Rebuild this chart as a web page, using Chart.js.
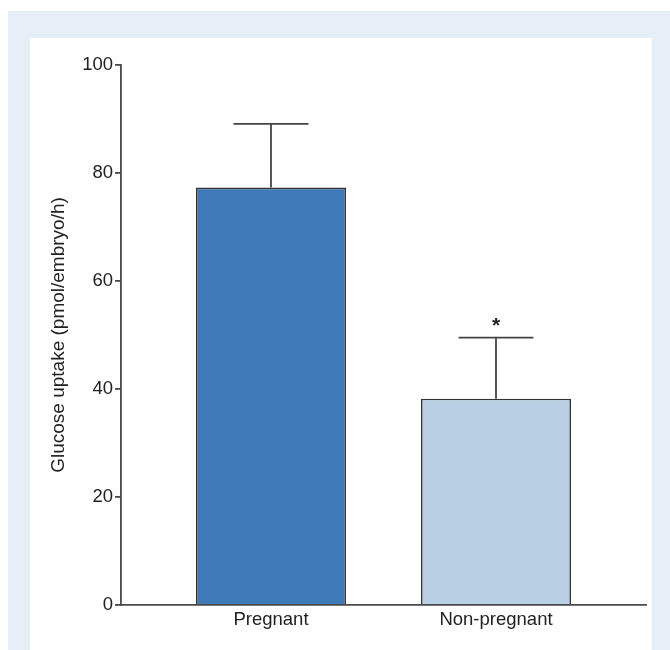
<!DOCTYPE html>
<html>
<head>
<meta charset="utf-8">
<script src="https://cdn.jsdelivr.net/npm/chart.js@4/dist/chart.umd.min.js"></script>
<style>
  html, body { margin: 0; padding: 0; background: #ffffff; }
  #wrap { width: 670px; height: 650px; }
</style>
</head>
<body>
<div id="wrap"><canvas id="c" width="670" height="650"></canvas></div>
<script>
// ---- data ----
const categories = ['Pregnant', 'Non-pregnant'];
const meanValues = [77.3, 38.2];
const errorValues = [11.8, 11.3];
const significance = ['', '*'];
const yTicks = [0, 20, 40, 60, 80, 100];
const barColors = ['#3f7ab8', '#b9d0e4'];

const FONT = "'Liberation Sans', Arial, Helvetica, sans-serif";
const TEXT = '#222222';
const AXIS = '#4a4a4a';

const backgroundPlugin = {
  id: 'panels',
  beforeDraw(chart) {
    const ctx = chart.ctx;
    ctx.save();
    ctx.fillStyle = '#e6eef8';
    ctx.fillRect(8, 11, 662, 639);
    ctx.fillStyle = '#ffffff';
    ctx.fillRect(30, 38, 622, 612);
    ctx.restore();
  }
};

const errorBarPlugin = {
  id: 'errorBars',
  afterDatasetsDraw(chart) {
    const ctx = chart.ctx;
    const y = chart.scales.y;
    const meta = chart.getDatasetMeta(0);
    ctx.save();
    meta.data.forEach((bar, i) => {
      const top = y.getPixelForValue(meanValues[i] + errorValues[i]);
      const half = bar.width / 4;
      ctx.strokeStyle = '#444444';
      ctx.lineWidth = 1.8;
      ctx.beginPath();
      ctx.moveTo(bar.x, bar.y);
      ctx.lineTo(bar.x, top);
      ctx.moveTo(bar.x - half, top);
      ctx.lineTo(bar.x + half, top);
      ctx.stroke();
      if (significance[i]) {
        ctx.fillStyle = TEXT;
        ctx.font = 'bold 21px ' + FONT;
        ctx.textAlign = 'center';
        ctx.textBaseline = 'middle';
        ctx.fillText(significance[i], bar.x, top - 11);
      }
    });
    ctx.restore();
  }
};

new Chart(document.getElementById('c'), {
  type: 'bar',
  data: {
    datasets: [{
      data: meanValues.map((v, i) => ({ x: i, y: v })),
      backgroundColor: barColors,
      borderColor: '#333333',
      borderWidth: 1.6,
      borderSkipped: 'bottom',
      barPercentage: 2 / 3,
      categoryPercentage: 1
    }]
  },
  options: {
    responsive: false,
    animation: false,
    layout: { padding: { left: 0, right: 24, top: 65, bottom: 0 } },
    plugins: { legend: { display: false }, tooltip: { enabled: false } },
    scales: {
      x: {
        type: 'linear',
        offset: false,
        min: -2 / 3,
        max: 5 / 3,
        grid: { display: false, drawTicks: false, offset: false },
        border: { display: true, color: AXIS, width: 1.8 },
        afterBuildTicks(scale) {
          scale.ticks = categories.map((_, i) => ({ value: i }));
        },
        afterFit(scale) { scale.height = 45; },
        ticks: {
          autoSkip: false,
          maxRotation: 0,
          padding: 4,
          color: TEXT,
          font: { family: FONT, size: 18.5 },
          callback: (v) => categories[v] ?? ''
        }
      },
      y: {
        min: 0,
        max: 100,
        afterBuildTicks(scale) {
          scale.ticks = yTicks.map(v => ({ value: v }));
        },
        afterFit(scale) { scale.width = 121; },
        grid: { drawOnChartArea: false, drawTicks: true, tickLength: 6, color: AXIS, lineWidth: 1.8 },
        border: { display: true, color: AXIS, width: 1.8 },
        ticks: {
          padding: 2,
          color: TEXT,
          font: { family: FONT, size: 18.5 }
        },
        title: {
          display: true,
          text: 'Glucose uptake (pmol/embryo/h)',
          color: TEXT,
          font: { family: FONT, size: 19 },
          padding: { top: 47, bottom: 0 }
        }
      }
    }
  },
  plugins: [backgroundPlugin, errorBarPlugin]
});
</script>
</body>
</html>
